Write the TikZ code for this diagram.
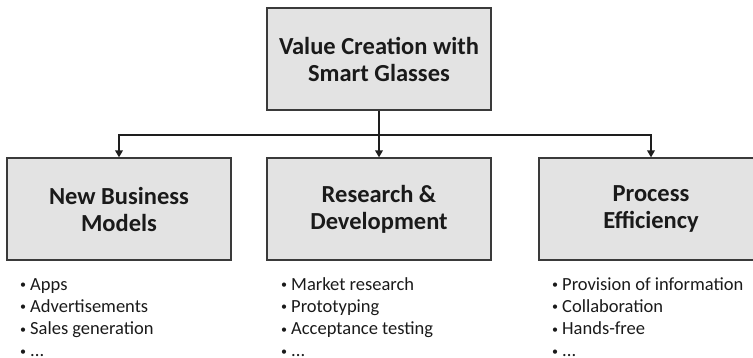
\documentclass[tikz,border=0pt]{standalone}
\usepackage{fontspec}
\setmainfont{Carlito}
\usetikzlibrary{arrows.meta}
\definecolor{boxfill}{HTML}{E3E3E3}
\definecolor{boxline}{HTML}{3A3A3A}
\definecolor{lin}{HTML}{1E1E1E}
\definecolor{txt}{HTML}{1A1A1A}
\newcommand\bul{\makebox[0pt][r]{\raisebox{1.6pt}{\scalebox{0.65}{\textbullet}}\hspace{4pt}}}
\begin{document}
\begin{tikzpicture}[x=1pt,y=-1pt,
  box/.style={draw=boxline, fill=boxfill, line width=1.2pt, minimum width=224pt, minimum height=102pt, inner sep=0pt, align=center, font=\fontsize{24.5}{27}\selectfont\bfseries, text=txt},
  conn/.style={line width=1.8pt, draw=lin},
  arr/.style={conn, -{Triangle[length=7pt,width=7.5pt]}},
  itemlist/.style={anchor=north west, align=left, font=\fontsize{18.5}{22.2}\selectfont, inner sep=0pt, text=txt}]
\useasboundingbox (0,0) rectangle (753,358);
\clip (0,0) rectangle (753,358);
\node[box] (top) at (379,59) {Value Creation with\\Smart Glasses};
\node[box] (nb) at (119,209) {New Business\\Models};
\node[box] (rd) at (379,209) {Research \&\\Development};
\node[box] (pe) at (651,209) {Process\\Efficiency};
\coordinate (j) at (379,135);
\draw[conn] (top.south) -- (j);
\draw[arr] (j) -| (nb.north);
\draw[arr] (j) -- (rd.north);
\draw[arr] (j) -| (pe.north);
\node[itemlist] (l1) at (30,274.5) {\strut\bul Apps\\\bul Advertisements\\\bul Sales generation\\\bul ...};
\node[itemlist] (l2) at (291,274.5) {\strut\bul Market research\\\bul Prototyping\\\bul Acceptance testing\\\bul ...};
\node[itemlist] (l3) at (562,274.5) {\strut\bul Provision of information\\\bul Collaboration\\\bul Hands-free\\\bul ...};
\end{tikzpicture}
\end{document}
